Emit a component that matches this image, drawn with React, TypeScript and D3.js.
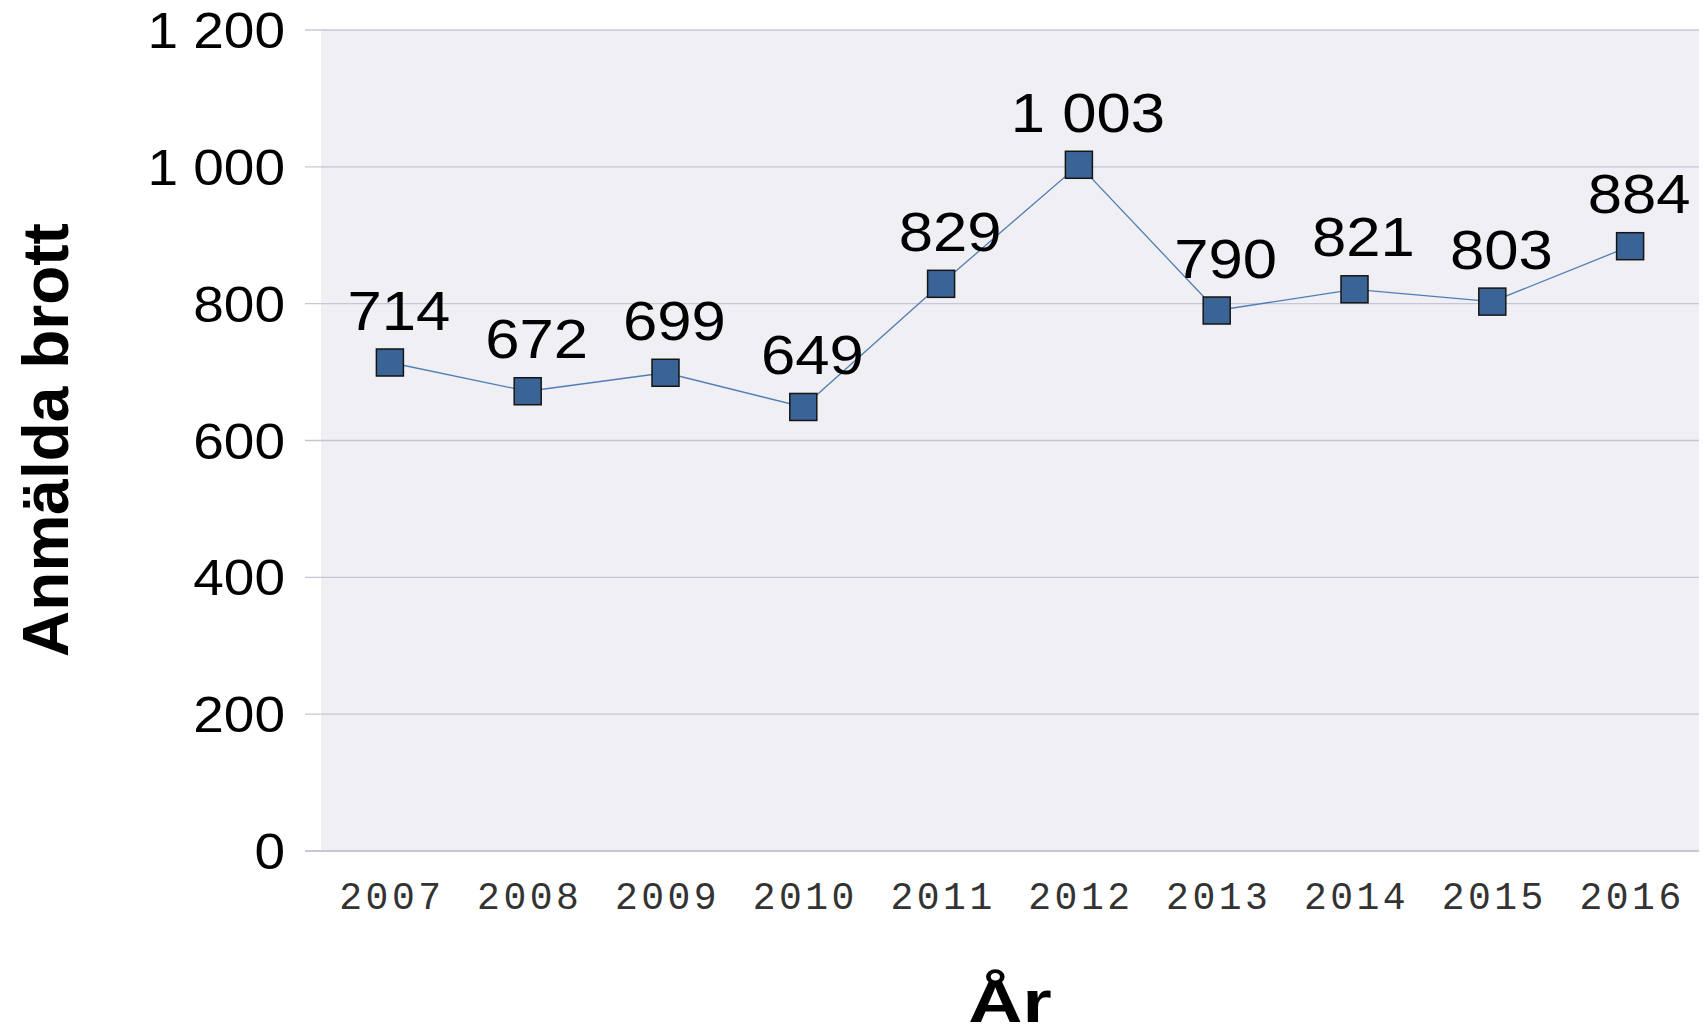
import React from "react";
import { scaleBand, scaleLinear, line } from "d3";

const years = ["2007", "2008", "2009", "2010", "2011", "2012", "2013", "2014", "2015", "2016"];
const reported = [714, 672, 699, 649, 829, 1003, 790, 821, 803, 884];
const yTicks = [0, 200, 400, 600, 800, 1000, 1200];

const W = 1707;
const H = 1035;
const left = 321;
const right = 1699;
const top = 30;
const bottom = 851;

const lineBlue = "#4f7db5";
const markerBlue = "#3a6496";

// swedish style thousands: "1 200"
const fmt = (v: number) => String(v).replace(/\B(?=(\d{3})+(?!\d))/g, " ");

export default function App() {
  const x = scaleBand<string>().domain(years).range([left, right]);
  const y = scaleLinear().domain([0, 1200]).range([bottom, top]);
  const cx = (yr: string) => (x(yr) as number) + x.bandwidth() / 2;

  const pts = years.map((yr, i) => ({ yr, v: reported[i] }));
  const path = line<{ yr: string; v: number }>()
    .x(d => cx(d.yr))
    .y(d => y(d.v))(pts);

  const m = 27;

  return (
    <svg width={W} height={H} style={{ position: "absolute", left: 0, top: 0 }} fontFamily="'Liberation Sans', Arial, sans-serif">
      <rect width={W} height={H} fill="#ffffff" />
      <rect x={left} y={top} width={right - left} height={bottom - top} fill="#efeff4" />
      {yTicks.map(t => (
        <g key={t}>
          <line x1={305} x2={right} y1={y(t)} y2={y(t)} stroke="#c6c6d8" strokeWidth={t === 0 ? 2 : 1.3} />
          <text transform={`translate(285,${y(t) + 18}) scale(1.1,1)`} textAnchor="end" fontSize={50} fill="#000">
            {fmt(t)}
          </text>
        </g>
      ))}
      {years.map(yr => (
        <text key={yr} x={cx(yr) + 2} y={909} textAnchor="middle" fontSize={38} letterSpacing={3.5}
          fontFamily="'Liberation Mono', 'Courier New', monospace" fill="#333">
          {yr}
        </text>
      ))}
      <path d={path ?? ""} fill="none" stroke={lineBlue} strokeWidth={1.3} />
      {pts.map(d => (
        <rect key={d.yr} x={cx(d.yr) - m / 2} y={y(d.v) - m / 2} width={m} height={m}
          fill={markerBlue} stroke="#151515" strokeWidth={1.5} />
      ))}
      {pts.map(d => (
        <text key={"l" + d.yr} transform={`translate(${cx(d.yr) + 9},${y(d.v) - 33}) scale(1.1,1)`}
          textAnchor="middle" fontSize={56} fill="#000">
          {fmt(d.v)}
        </text>
      ))}
      <text transform="translate(68,440) rotate(-90)" textAnchor="middle" fontSize={64} fontWeight="bold" fill="#000">
        Anmälda brott
      </text>
      <text transform="translate(1010,1022) scale(1.25,1)" textAnchor="middle" fontSize={60} fontWeight="bold" fill="#000">
        År
      </text>
    </svg>
  );
}
